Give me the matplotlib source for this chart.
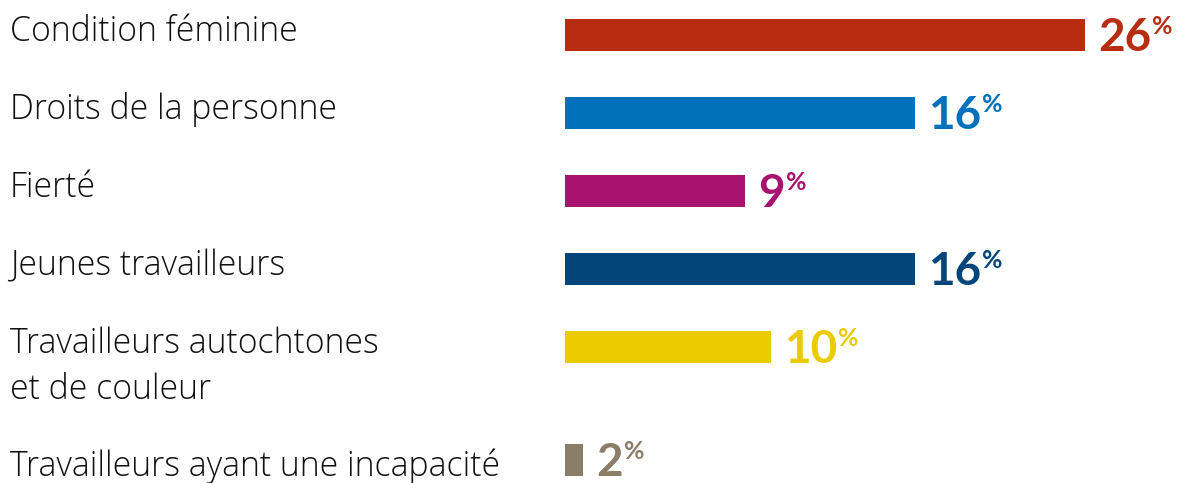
import matplotlib.pyplot as plt
import matplotlib.transforms as mtransforms

# categories, bar lengths (in %) and printed labels
categories = ['Condition féminine', 'Droits de la personne', 'Fierté',
              'Jeunes travailleurs', 'Travailleurs autochtones\net de couleur',
              'Travailleurs ayant une incapacité']
values = [26.0, 17.5, 9.0, 17.5, 10.3, 0.9]
value_labels = ['26', '16', '9', '16', '10', '2']
colors = ['#B82C12', '#0071BA', '#A8136F', '#02457A', '#E9CB00', '#8B7D68']

plt.rcParams['font.family'] = ['Lato', 'DejaVu Sans']

W, H = 1188, 483
fig = plt.figure(figsize=(W / 100, H / 100), dpi=100)
# axes in pixel-like units: x in %, y in pixels from the top
ax = fig.add_axes([565 / W, 0, (W - 565) / W, 1])
ax.set_xlim(0, (W - 565) / 20)
ax.set_ylim(H, 0)
ax.axis('off')

# row centers: fixed step, extra room for two-line labels
pos = []
y = 35
for cat in categories:
    pos.append(y)
    y += 78 + 35 * cat.count('\n')

ax.barh(pos, values, height=32, color=colors, left=0)

# category labels follow their own line grid
trans = mtransforms.blended_transform_factory(fig.transFigure, ax.transData)
base = 41
for cat in categories:
    for k, line in enumerate(cat.split('\n')):
        fig.text(10 / W, base + 46 * k, line, transform=trans, fontsize=24.3,
                 family=['Open Sans', 'DejaVu Sans'], fontweight='light',
                 color='#111111', va='baseline', ha='left')
    base += 78 + 45 * cat.count('\n')

for p, v, lab, c in zip(pos, values, value_labels, colors):
    t = ax.annotate(lab, xy=(v, p + 16), xytext=(13, 0), textcoords='offset pixels',
                    fontsize=33, fontweight='bold', color=c, va='baseline', ha='left')
    ax.annotate('%', xy=(1, 1), xycoords=t, xytext=(1, 2), textcoords='offset pixels',
                fontsize=18, fontweight='bold', color=c, va='top', ha='left')

fig.savefig('out.png', dpi=100)
